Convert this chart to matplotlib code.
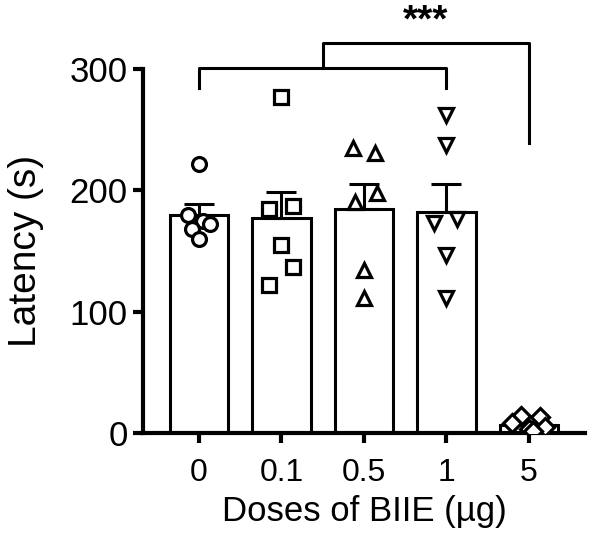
import numpy as np
import matplotlib
matplotlib.use("Agg")
import matplotlib.pyplot as plt

plt.rcParams['font.family'] = ['Liberation Sans', 'DejaVu Sans']

# Doses and summary values
doses = ["0", "0.1", "0.5", "1", "5"]
means = [180, 177, 185, 182, 7]
sems = [9, 22, 20, 23, 2]

# Individual animals per dose
pts_0 = [222, 180, 175, 172, 168, 160]
pts_01 = [277, 185, 187, 155, 137, 122]
pts_05 = [235, 231, 190, 198, 134, 111]
pts_1 = [262, 237, 173, 176, 147, 111]
pts_5 = [14, 13, 8, 5, 3, 2]

# horizontal spread of the dots inside each bar
jitter_0 = [0.0, -0.13, 0.05, 0.13, -0.08, 0.0]
jitter_01 = [0.0, -0.15, 0.14, 0.0, 0.14, -0.15]
jitter_05 = [-0.13, 0.13, -0.11, 0.16, 0.0, 0.0]
jitter_1 = [0.0, 0.0, -0.15, 0.13, 0.0, 0.0]
jitter_5 = [-0.1, 0.14, -0.2, 0.2, 0.0, 0.05]

points = [pts_0, pts_01, pts_05, pts_1, pts_5]
jitters = [jitter_0, jitter_01, jitter_05, jitter_1, jitter_5]
markers = ["o", "s", "^", "v", "D"]
msizes = [10, 10, 10, 10, 9]

fig = plt.figure(figsize=(6, 5.33), dpi=100)
ax = fig.add_axes([0.238, 0.1876, 0.737, 0.683])

x = np.arange(len(doses))
ax.bar(x, means, width=0.71, color="white", edgecolor="black", linewidth=2.2, zorder=2)

# SEM, upward only
ax.errorbar(x, means, yerr=[np.zeros(len(sems)), sems], fmt="none", ecolor="black",
            elinewidth=2.2, capsize=11, capthick=2.2, zorder=3)

for i in range(len(doses)):
    xs = x[i] + np.array(jitters[i])
    ax.plot(xs, points[i], linestyle="none", marker=markers[i], markersize=msizes[i],
            markerfacecolor="white", markeredgecolor="black", markeredgewidth=2.3, zorder=4)

# significance brackets
lw = 2.2
ax.plot([0, 0, 3, 3], [284, 301, 301, 284], color="black", lw=lw, clip_on=False)
ax.plot([1.5, 1.5, 4, 4], [301, 321.5, 321.5, 239], color="black", lw=lw, clip_on=False)
ax.text(2.75, 324, "***", ha="center", va="bottom", fontsize=28, fontweight="bold")

ax.set_xlim(-0.68, 4.68)
ax.set_ylim(0, 300)
ax.set_yticks([0, 100, 200, 300])
ax.set_xticks(x)
ax.set_xticklabels(doses)

for s in ["top", "right"]:
    ax.spines[s].set_visible(False)
for s in ["left", "bottom"]:
    ax.spines[s].set_linewidth(3)

ax.tick_params(axis="y", direction="out", length=7, width=3, labelsize=25, pad=4)
ax.tick_params(axis="x", direction="out", length=7, width=3, labelsize=23, pad=11)

ax.set_ylabel("Latency (s)", fontsize=28, labelpad=18)
ax.set_xlabel("Doses of BIIE (µg)", fontsize=25, labelpad=5)

fig.savefig("out.png", dpi=100)
